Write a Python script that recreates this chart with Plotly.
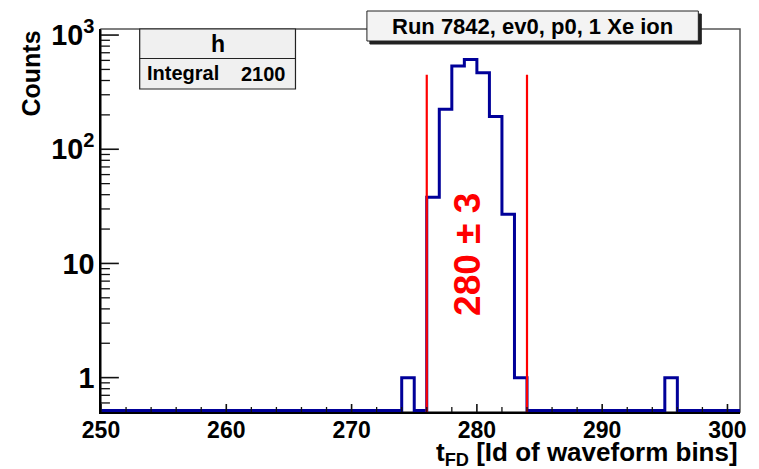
import plotly.graph_objects as go
import math

# ---- data ----
x_min, x_max = 250, 301                 # histogram range (1 unit bins)
filled_bins = [274, 276, 277, 278, 279, 280, 281, 282, 283, 295]
filled_counts = [1, 38, 224, 535, 611, 468, 194, 27, 1, 1]
cut_lo, cut_hi = 276, 284               # red marker lines
cut_top = 450
title_text = "Run 7842, ev0, p0, 1 Xe ion"
hist_name = "h"
integral = 2100
label_text = "280 \u00b1 3"

y_lo, y_hi = 0.5, 1130

# full histogram contents
counts = {b: 0 for b in range(x_min, x_max)}
for b, c in zip(filled_bins, filled_counts):
    counts[b] = c
edges = list(range(x_min, x_max + 1))
vals = [counts[b] for b in range(x_min, x_max)]
floor = y_lo * 1.03
step_x = edges
step_y = [max(v, floor) for v in vals] + [max(vals[-1], floor)]

FONT = "Liberation Sans"
TICK = "#111111"
fig = go.Figure()

fig.add_trace(go.Scatter(x=step_x, y=step_y, mode="lines", line_shape="hv",
                         line=dict(color="#000099", width=3),
                         hoverinfo="skip", showlegend=False))
for xc in (cut_lo, cut_hi):
    fig.add_trace(go.Scatter(x=[xc, xc], y=[y_lo * 0.5, cut_top], mode="lines",
                             line=dict(color="#ff0000", width=2.2),
                             hoverinfo="skip", showlegend=False))

L, R, T, B = 101, 14, 29, 57
W, H = 759, 469
pw, ph = W - L - R, H - T - B
log_lo, log_hi = math.log10(y_lo), math.log10(y_hi)


def px(xp):
    return (xp - L) / pw


def py(yp):
    return (H - B - yp) / ph


def ylog_paper(v):
    return (math.log10(v) - log_lo) / (log_hi - log_lo)


shapes = [
    dict(type="rect", xref="paper", yref="paper", x0=0, x1=1, y0=0, y1=1,
         line=dict(color="#555555", width=1.5), layer="below"),
]

# axis tick marks (inside the frame, ROOT style)
x_major = list(range(x_min, x_max, 10))
x_minor = [v for v in range(x_min, x_max, 2) if v not in x_major]
y_major = [1, 10, 100, 1000]
y_minor = [m * 10 ** d for d in range(-1, 3) for m in range(2, 10) if y_lo < m * 10 ** d < y_hi]
for v in x_major:
    shapes.append(dict(type="line", xref="x", yref="paper", x0=v, x1=v, y0=0, y1=8 / ph,
                       line=dict(color=TICK, width=1.6), layer="above"))
for v in x_minor:
    shapes.append(dict(type="line", xref="x", yref="paper", x0=v, x1=v, y0=0, y1=5 / ph,
                       line=dict(color=TICK, width=1.3), layer="above"))
for v in y_major:
    yp = ylog_paper(v)
    shapes.append(dict(type="line", xref="paper", yref="paper", x0=0, x1=18 / pw, y0=yp, y1=yp,
                       line=dict(color=TICK, width=1.6), layer="above"))
for v in y_minor:
    yp = ylog_paper(v)
    shapes.append(dict(type="line", xref="paper", yref="paper", x0=0, x1=9 / pw, y0=yp, y1=yp,
                       line=dict(color=TICK, width=1.3), layer="above"))

shapes += [
    dict(type="rect", xref="paper", yref="paper", x0=px(140), x1=px(297), y0=py(89), y1=py(29),
         line=dict(color="#222222", width=1.2), fillcolor="#f0f0f0", layer="above"),
    dict(type="line", xref="paper", yref="paper", x0=px(140), x1=px(297), y0=py(58.5), y1=py(58.5),
         line=dict(color="#222222", width=1.2), layer="above"),
    dict(type="rect", xref="paper", yref="paper", x0=px(372), x1=px(706), y0=py(44), y1=py(14),
         line=dict(color="#222222", width=1), fillcolor="#222222", layer="above"),
    dict(type="rect", xref="paper", yref="paper", x0=px(369), x1=px(703), y0=py(41), y1=py(11),
         line=dict(color="#222222", width=1), fillcolor="#f3f3f3", layer="above"),
]

annotations = [
    dict(text="<b>" + title_text + "</b>", xref="paper", yref="paper", x=px(536), y=py(26.5),
         xanchor="center", yanchor="middle", showarrow=False,
         font=dict(family=FONT, size=22, color="black")),
    dict(text="<b>" + hist_name + "</b>", xref="paper", yref="paper", x=px(218.5), y=py(44),
         xanchor="center", yanchor="middle", showarrow=False,
         font=dict(family=FONT, size=23, color="black")),
    dict(text="<b>Integral</b>", xref="paper", yref="paper", x=px(145), y=py(73),
         xanchor="left", yanchor="middle", showarrow=False,
         font=dict(family=FONT, size=20, color="black")),
    dict(text="<b>%d</b>" % integral, xref="paper", yref="paper", x=px(289), y=py(74),
         xanchor="right", yanchor="middle", showarrow=False,
         font=dict(family=FONT, size=20, color="black")),
    dict(text="<b>" + label_text + "</b>", xref="x", yref="y", x=279.25, y=math.log10(12),
         xanchor="center", yanchor="middle", showarrow=False, textangle=-90,
         font=dict(family=FONT, size=37, color="#ff0000")),
    dict(text="<b>t<sub>FD</sub> [Id of waveform bins]</b>", xref="paper", yref="paper",
         x=1, y=py(453), xanchor="right", yanchor="middle", showarrow=False,
         font=dict(family=FONT, size=26, color="black")),
    dict(text="<b>Counts</b>", xref="paper", yref="paper", x=px(30), y=1,
         xanchor="center", yanchor="top", showarrow=False, textangle=-90,
         font=dict(family=FONT, size=25, color="black")),
]

fig.update_layout(
    width=W, height=H,
    margin=dict(l=L, r=R, t=T, b=B, pad=0),
    paper_bgcolor="white", plot_bgcolor="white",
    shapes=shapes, annotations=annotations,
    xaxis=dict(range=[x_min, x_max], tick0=250, dtick=10, ticks="",
               showline=True, linecolor="black", linewidth=2, showgrid=False, zeroline=False,
               tickprefix="<b>", ticksuffix="</b>", ticklabelstandoff=-4,
               tickfont=dict(family=FONT, size=23, color="black")),
    yaxis=dict(type="log", range=[log_lo, log_hi], dtick=1, exponentformat="power", ticks="",
               showline=True, linecolor="black", linewidth=2, showgrid=False, zeroline=False,
               tickprefix="<b>", ticksuffix="</b>",
               tickfont=dict(family=FONT, size=23, color="black")),
)

fig.write_html("out.html")
